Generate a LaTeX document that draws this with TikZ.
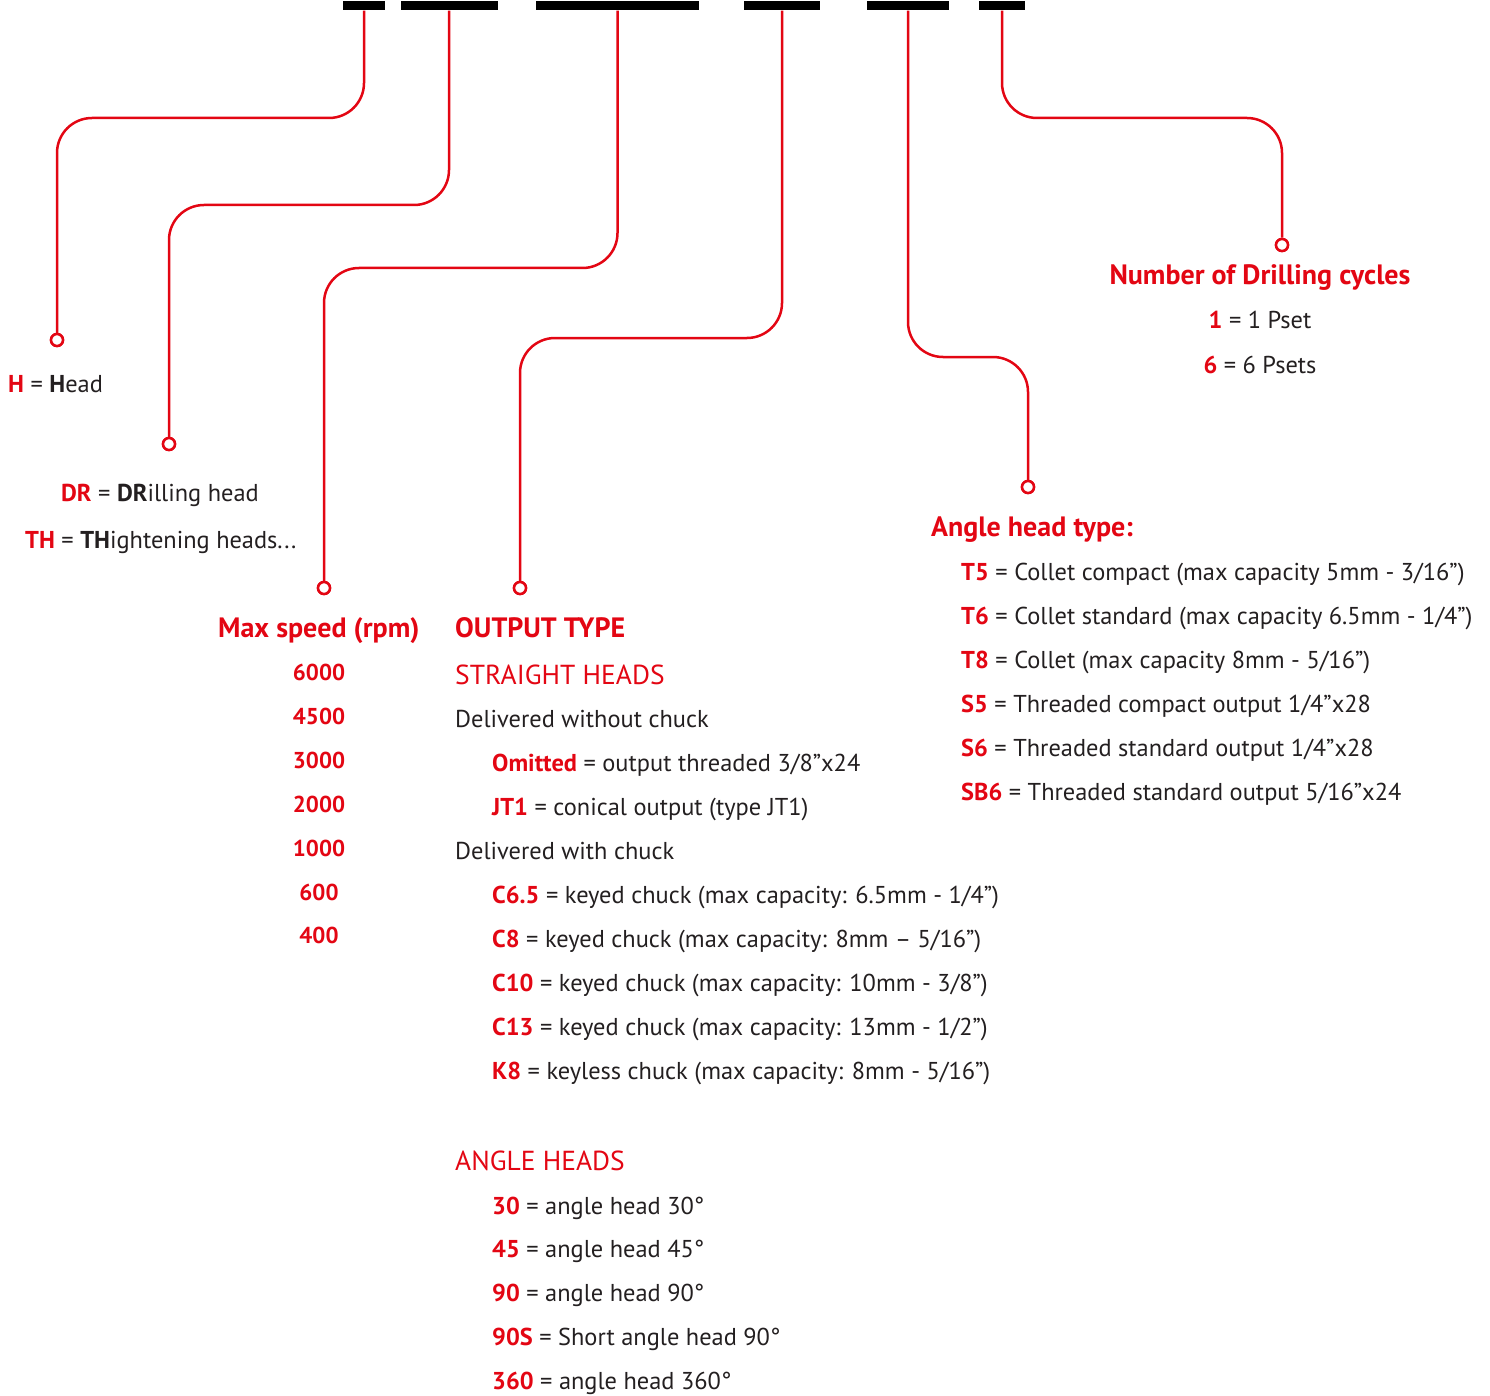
\documentclass[tikz,border=0pt]{standalone}
\usepackage{fontspec}
\setmainfont{PT Sans}
\definecolor{dred}{RGB}{227,6,19}
\definecolor{tgray}{RGB}{35,31,32}
\newcommand\kw[1]{\textcolor{dred}{\bfseries #1}}
\newcommand\sq{\char"0022\relax}
\newcommand\rfont{\fontsize{24.4}{28}\selectfont}
\newcommand\hfont{\fontsize{28}{32}\selectfont\bfseries}
\tikzset{
  bar/.style={fill=black, inner sep=0pt, minimum height=9pt},
  dot/.style={circle, draw=dred, line width=2.5pt, fill=white, minimum size=12pt, inner sep=0pt},
  conn/.style={draw=dred, line width=2.5pt, rounded corners=35pt},
  txt/.style={anchor=base west, inner sep=0pt, text=tgray, font=\rfont},
  ctxt/.style={anchor=base, inner sep=0pt, text=tgray, font=\rfont},
  head/.style={anchor=base west, inner sep=0pt, text=dred, font=\hfont},
  sub/.style={anchor=base west, inner sep=0pt, text=dred, font=\fontsize{27.5}{31}\selectfont},
  num/.style={anchor=base, inner sep=0pt, text=dred, font=\fontsize{23}{27}\selectfont\bfseries}
}
\begin{document}
\begin{tikzpicture}[x=1pt, y=-1pt]
\useasboundingbox (0,0) rectangle (1490,1396);
% top bars
\node[bar, minimum width=42pt] (b1) at (364,6) {};
\node[bar, minimum width=97pt] (b2) at (449,6) {};
\node[bar, minimum width=163pt] (b3) at (617.5,6) {};
\node[bar, minimum width=76pt] (b4) at (782,6) {};
\node[bar, minimum width=82pt] (b5) at (908,6) {};
\node[bar, minimum width=46pt] (b6) at (1002,6) {};
% end circles
\node[dot] (c1) at (57,340) {};
\node[dot] (c2) at (169,444) {};
\node[dot] (c3) at (324,588) {};
\node[dot] (c4) at (520,588) {};
\node[dot] (c5) at (1028,487) {};
\node[dot] (c6) at (1282,245) {};
% turning heights
\coordinate (h1) at (0,118);
\coordinate (h2) at (0,205);
\coordinate (h3) at (0,268);
\coordinate (h4) at (0,338);
\coordinate (h5) at (0,357);
\coordinate (h6) at (0,118);
% connectors
\draw[conn] (b1.south) -- (b1.south |- h1) -- (c1 |- h1) -- (c1.north);
\draw[conn] (b2.south) -- (b2.south |- h2) -- (c2 |- h2) -- (c2.north);
\draw[conn] (b3.south) -- (b3.south |- h3) -- (c3 |- h3) -- (c3.north);
\draw[conn] (b4.south) -- (b4.south |- h4) -- (c4 |- h4) -- (c4.north);
\draw[conn] (b5.south) -- (b5.south |- h5) -- (c5 |- h5) -- (c5.north);
\draw[conn] (b6.south) -- (b6.south |- h6) -- (c6 |- h6) -- (c6.north);
% redraw circles on top
\node[dot] at (c1) {};
\node[dot] at (c2) {};
\node[dot] at (c3) {};
\node[dot] at (c4) {};
\node[dot] at (c5) {};
\node[dot] at (c6) {};
% head
\node[txt] (tH) at (8,392) {\kw{H} = {\bfseries H}ead};
\node[txt] (tDR) at (61,501) {\kw{DR} = {\bfseries DR}illing head};
\node[txt] (tTH) at (25,548) {\kw{TH} = {\bfseries TH}ightening heads...};
% max speed
\node[head] (tMS) at (218,637) {Max speed (rpm)};
\node[num] (n1) at (319,680) {6000};
\node[num] (n2) at (319,724) {4500};
\node[num] (n3) at (319,768) {3000};
\node[num] (n4) at (319,812) {2000};
\node[num] (n5) at (319,856) {1000};
\node[num] (n6) at (319,900) {600};
\node[num] (n7) at (319,943) {400};
% output type
\node[head] (tOT) at (455,637) {OUTPUT TYPE};
\node[sub] (tSH) at (455,684) {STRAIGHT HEADS};
\node[txt] (tDw) at (455,727) {Delivered without chuck};
\node[txt] (tOm) at (492,771) {\kw{Omitted} = output threaded 3/8”x24};
\node[txt] (tJT) at (492,815) {\kw{JT1} = conical output (type JT1)};
\node[txt] (tDc) at (455,859) {Delivered with chuck};
\node[txt] (tC65) at (492,903) {\kw{C6.5} = keyed chuck (max capacity: 6.5mm - 1/4”)};
\node[txt] (tC8) at (492,947) {\kw{C8} = keyed chuck (max capacity: 8mm – 5/16”)};
\node[txt] (tC10) at (492,991) {\kw{C10} = keyed chuck (max capacity: 10mm - 3/8”)};
\node[txt] (tC13) at (492,1035) {\kw{C13} = keyed chuck (max capacity: 13mm - 1/2”)};
\node[txt] (tK8) at (492,1079) {\kw{K8} = keyless chuck (max capacity: 8mm - 5/16”)};
\node[sub] (tAH) at (455,1170) {ANGLE HEADS};
\node[txt] (t30) at (492,1214) {\kw{30} = angle head 30°};
\node[txt] (t45) at (492,1257) {\kw{45} = angle head 45°};
\node[txt] (t90) at (492,1301) {\kw{90} = angle head 90°};
\node[txt] (t90S) at (492,1345) {\kw{90S} = Short angle head 90°};
\node[txt] (t360) at (492,1389) {\kw{360} = angle head 360°};
% angle head type
\node[head] (tAT) at (931,536) {Angle head type:};
\node[txt] (tT5) at (961,580) {\kw{T5} = Collet compact (max capacity 5mm - 3/16\sq)};
\node[txt] (tT6) at (961,624) {\kw{T6} = Collet standard (max capacity 6.5mm - 1/4\sq)};
\node[txt] (tT8) at (961,668) {\kw{T8} = Collet (max capacity 8mm - 5/16\sq)};
\node[txt] (tS5) at (961,712) {\kw{S5} = Threaded compact output 1/4\sq x28};
\node[txt] (tS6) at (961,756) {\kw{S6} = Threaded standard output 1/4\sq x28};
\node[txt] (tSB6) at (961,800) {\kw{SB6} = Threaded standard output 5/16\sq x24};
% drilling cycles
\node[head, anchor=base] (tND) at (1260,285) {Number of Drilling cycles};
\node[ctxt] (tP1) at (1260,329) {\kw{1} = 1 Pset};
\node[ctxt] (tP6) at (1260,373) {\kw{6} = 6 Psets};
\end{tikzpicture}
\end{document}
